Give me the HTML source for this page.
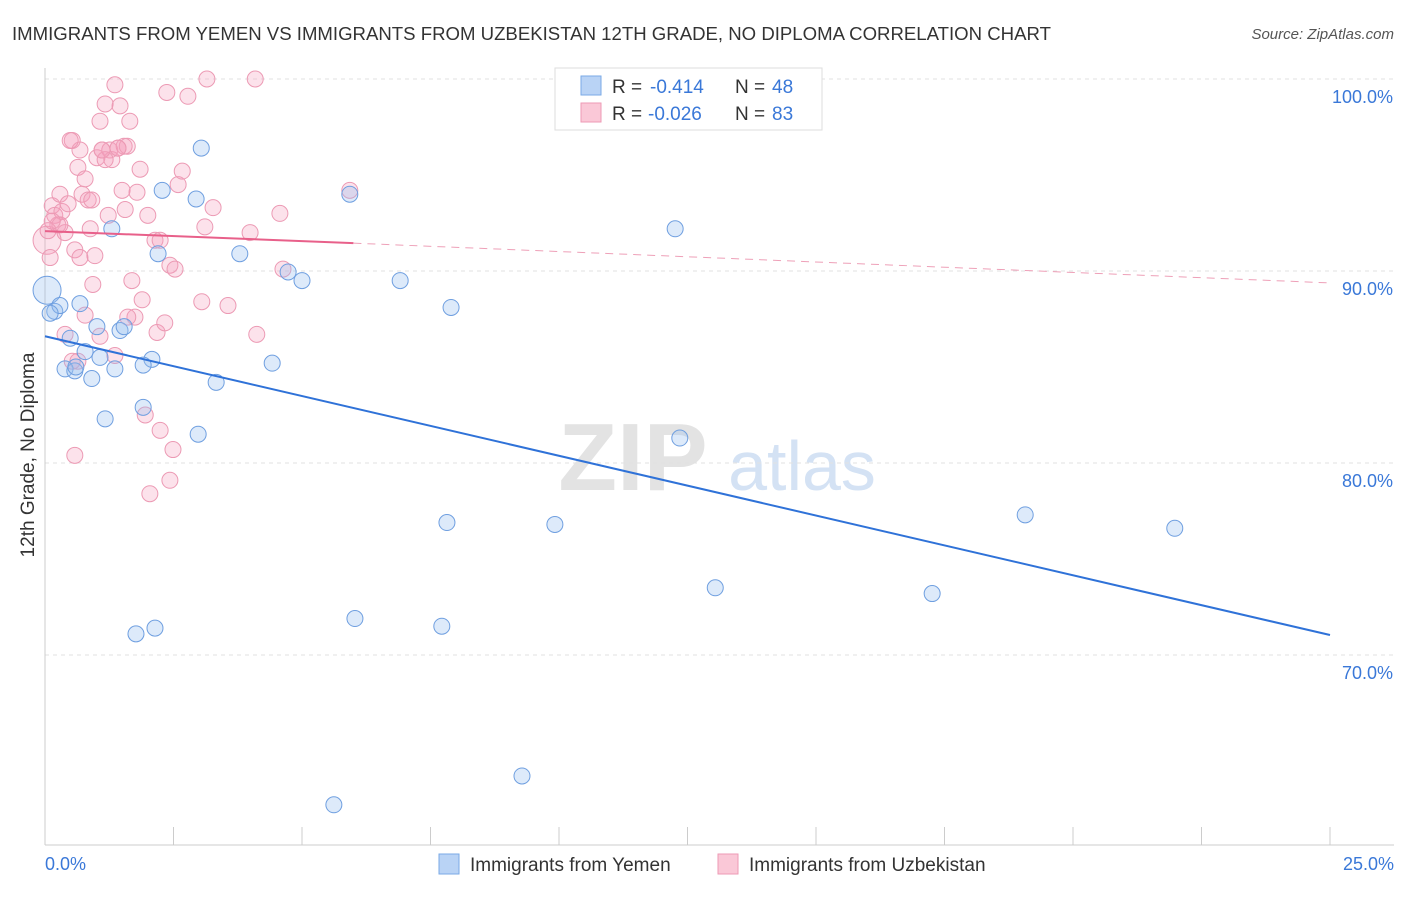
<!DOCTYPE html>
<html><head><meta charset="utf-8"><style>
body{margin:0;background:#fff;font-family:"Liberation Sans",sans-serif;}
svg text{font-family:"Liberation Sans",sans-serif;}
</style></head><body>
<svg id="chart" width="1406" height="892" viewBox="0 0 1406 892" xmlns="http://www.w3.org/2000/svg">
<text x="12" y="40" font-size="18.6" fill="#333">IMMIGRANTS FROM YEMEN VS IMMIGRANTS FROM UZBEKISTAN 12TH GRADE, NO DIPLOMA CORRELATION CHART</text>
<text x="1394" y="39" font-size="15" fill="#555" font-style="italic" text-anchor="end">Source: ZipAtlas.com</text>
<g>
<text x="633" y="490" font-size="96" fill="#e3e3e3" font-family="Liberation Serif" text-anchor="middle" font-weight="bold">ZIP</text>
<text x="802" y="490" font-size="70" fill="#d4e2f4" text-anchor="middle">atlas</text>
</g>
<g id="grid"></g><g id="axes"></g><g id="pts"></g><g id="lines"></g>
<text transform="translate(34,455) rotate(-90)" font-size="19" fill="#333" text-anchor="middle">12th Grade, No Diploma</text>
<text x="45" y="870" font-size="18" fill="#3a78d8">0.0%</text>
<text x="1394" y="870" font-size="18" fill="#3a78d8" text-anchor="end">25.0%</text>
<g>
<rect x="555" y="68" width="267" height="62" fill="#fff" stroke="#ddd"/>
<rect x="581" y="76" width="20" height="19" fill="#b9d3f5" stroke="#7aaae6"/>
<rect x="581" y="103" width="20" height="19" fill="#fac8d7" stroke="#ee9ab4"/>
<text x="612" y="93" font-size="19" fill="#333">R =</text>
<text x="650" y="93" font-size="19" fill="#3a78d8">-0.414</text>
<text x="735" y="93" font-size="19" fill="#333">N =</text>
<text x="772" y="93" font-size="19" fill="#3a78d8">48</text>
<text x="612" y="120" font-size="19" fill="#333">R =</text>
<text x="648" y="120" font-size="19" fill="#3a78d8">-0.026</text>
<text x="735" y="120" font-size="19" fill="#333">N =</text>
<text x="772" y="120" font-size="19" fill="#3a78d8">83</text>
</g>
<g>
<rect x="439" y="854" width="20" height="20" fill="#b9d3f5" stroke="#7aaae6"/>
<text x="470" y="871" font-size="19" fill="#333">Immigrants from Yemen</text></g>
<g>
<rect x="718" y="854" width="20" height="20" fill="#fac8d7" stroke="#ee9ab4"/>
<text x="749" y="871" font-size="19" fill="#333">Immigrants from Uzbekistan</text></g>
</svg>
<script>
const yTicks=[100,90,80,70];
const yTickLabels=["100.0%","90.0%","80.0%","70.0%"];
const xTicks=[0,2.5,5,7.5,10,12.5,15,17.5,20,22.5,25];
const yemenX=[0.04,0.19,0.29,0.68,1.01,0.49,0.78,1.07,0.39,0.58,0.91,1.36,1.46,1.54,2.08,1.91,1.17,1.91,2.98,3.33,4.42,1.30,2.28,2.20,2.94,3.04,3.79,4.73,5.0,5.93,6.91,7.9,12.26,12.35,7.82,9.92,19.07,21.98,13.04,17.26,6.03,7.72,2.14,1.77,9.28,5.62,0.1,0.6];
const yemenY=[89.0,87.9,88.2,88.3,87.1,86.5,85.8,85.5,84.9,84.8,84.4,84.9,86.9,87.1,85.4,85.1,82.3,82.9,81.5,84.2,85.2,92.2,94.2,90.9,93.75,96.4,90.9,89.95,89.5,94.0,89.5,88.1,92.2,81.3,76.9,76.8,77.3,76.6,73.5,73.2,71.9,71.5,71.4,71.1,63.7,62.2,87.8,85.0];
const uzX=[0.04,0.1,0.14,0.19,0.25,0.29,0.33,0.39,0.45,0.53,0.58,0.64,0.68,0.72,0.78,0.84,0.88,0.93,0.97,1.01,1.07,1.11,1.17,1.23,1.26,1.3,1.36,1.42,1.46,1.5,1.54,1.6,1.65,1.69,1.75,1.79,1.85,1.89,1.95,2.04,2.14,2.18,2.24,2.33,2.37,2.43,2.49,2.53,2.59,2.67,2.78,3.05,3.11,3.15,3.27,3.56,3.99,4.09,4.12,4.57,4.63,5.93,0.58,2.43,0.53,0.64,1.36,1.07,0.39,0.78,1.61,2.0,2.24,0.91,0.29,0.49,1.17,1.56,0.06,0.14,0.68,1.11,1.42];
const uzY=[91.6,90.7,93.4,92.9,92.4,94.0,93.1,92.0,93.5,96.8,91.1,95.4,96.3,94.0,94.8,93.7,92.2,89.3,90.8,95.9,97.8,96.3,98.7,92.9,96.3,95.8,99.7,96.4,98.6,94.2,96.5,96.5,97.8,89.5,87.6,94.1,95.3,88.5,82.5,78.4,91.6,86.8,81.7,87.3,99.3,90.3,80.7,90.1,94.5,95.2,99.1,88.4,92.3,100.0,93.3,88.2,92.0,100.0,86.7,93.0,90.1,94.2,80.4,79.1,85.3,85.3,85.6,86.6,86.7,87.7,87.6,92.9,91.6,93.7,92.4,96.8,95.8,93.2,92.1,92.6,90.7,96.3,96.4];
const yemenTrend=[[0,86.6],[25,71.04]];
const uzTrend=[[0,92.08],[6.0,91.45],[25,89.38]];
const NS="http://www.w3.org/2000/svg";
const sx=v=>45+v/25*1285;
const sy=v=>79+(100-v)*19.2;
function mk(tag,attrs,parent){const e=document.createElementNS(NS,tag);for(const k in attrs)e.setAttribute(k,attrs[k]);parent.appendChild(e);return e;}
const grid=document.getElementById('grid'),axes=document.getElementById('axes'),pts=document.getElementById('pts'),lines=document.getElementById('lines');
yTicks.forEach((t,i)=>{
 const l=mk('line',{x1:45,x2:1394,y1:sy(t),y2:sy(t),stroke:'#e2e2e2','stroke-dasharray':'4,4'},grid);
 
 
 const tx=mk('text',{x:1393,y:sy(t)+24,'font-size':18,fill:'#3a78d8','text-anchor':'end'},grid);
 tx.textContent=yTickLabels[i];
 
 
});
const ax=mk('line',{x1:45,x2:45,y1:68,y2:845,stroke:'#ccc'},axes);


const bx=mk('line',{x1:45,x2:1394,y1:845,y2:845,stroke:'#ccc'},axes);


xTicks.forEach(t=>{
 const l=mk('line',{x1:sx(t),x2:sx(t),y1:827,y2:845,stroke:'#ccc'},axes);
 
 
});
uzX.forEach((x,i)=>{
 const c=mk('circle',{cx:sx(x),cy:sy(uzY[i]),r:i===0?14:8,fill:'rgba(244,160,188,0.3)',stroke:'#ec9ab4','stroke-width':1},pts);
 
 
});
yemenX.forEach((x,i)=>{
 const c=mk('circle',{cx:sx(x),cy:sy(yemenY[i]),r:i===0?14:8,fill:'rgba(150,190,240,0.32)',stroke:'#6f9fe0','stroke-width':1},pts);
 
 
});
const yl=mk('line',{x1:sx(yemenTrend[0][0]),y1:sy(yemenTrend[0][1]),x2:sx(yemenTrend[1][0]),y2:sy(yemenTrend[1][1]),stroke:'#2f72d8','stroke-width':2},lines);


const ul=mk('line',{x1:sx(uzTrend[0][0]),y1:sy(uzTrend[0][1]),x2:sx(uzTrend[1][0]),y2:sy(uzTrend[1][1]),stroke:'#e8608a','stroke-width':2},lines);


const ud=mk('line',{x1:sx(uzTrend[1][0]),y1:sy(uzTrend[1][1]),x2:sx(uzTrend[2][0]),y2:sy(uzTrend[2][1]),stroke:'#eea0b8','stroke-width':1,'stroke-dasharray':'8,6'},lines);


</script>
</body></html>
